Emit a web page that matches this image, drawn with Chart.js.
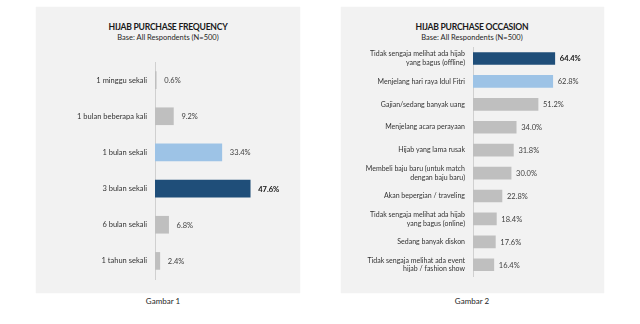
<!DOCTYPE html>
<html><head><meta charset="utf-8">
<script src="https://cdn.jsdelivr.net/npm/chart.js@4.4.1/dist/chart.umd.min.js"></script>
<style>
html,body{margin:0;padding:0;background:#fff;width:640px;height:324px;overflow:hidden;font-family:Lato,"Noto Sans",sans-serif;}
.panel{position:absolute;background:#f2f2f2;box-shadow:0 0 1px rgba(0,0,0,0.08);}
.t{position:absolute;text-align:center;color:#1a1a1a;white-space:nowrap;transform:translateX(-50%);}
.title{font-weight:bold;font-size:8.6px;letter-spacing:-0.25px;}
.sub{font-size:7.5px;color:#262626;}
.cap{font-size:8px;color:#262626;}
canvas{position:absolute;}
</style></head>
<body>
<div class="panel" style="left:36px;top:7px;width:264px;height:286px;"></div>
<div class="panel" style="left:341px;top:7px;width:263px;height:286px;"></div>
<div class="t title" style="left:168px;top:21.5px;">HIJAB PURCHASE FREQUENCY</div>
<div class="t sub" style="left:168px;top:32.5px;">Base: All Respondents (N=500)</div>
<div class="t title" style="left:472px;top:21.5px;">HIJAB PURCHASE OCCASION</div>
<div class="t sub" style="left:472px;top:32.5px;">Base: All Respondents (N=500)</div>
<div class="t cap" style="left:163px;top:296px;">Gambar 1</div>
<div class="t cap" style="left:472px;top:296px;">Gambar 2</div>
<canvas id="c1" width="264" height="286" style="left:36px;top:7px;width:264px;height:286px;"></canvas>
<canvas id="c2" width="263" height="286" style="left:341px;top:7px;width:263px;height:286px;"></canvas>
<script>
// ---- data ----
const freqCategories = ["1 minggu sekali","1 bulan beberapa kali","1 bulan sekali","3 bulan sekali","6 bulan sekali","1 tahun sekali"];
const freqValues = [0.6, 9.2, 33.4, 47.6, 6.8, 2.4];
const freqColorKeys = ["grey","grey","light","dark","grey","grey"];

const occCategories = [
  ["Tidak sengaja melihat ada hijab","yang bagus (offline)"],
  "Menjelang hari raya Idul Fitri",
  "Gajian/sedang banyak uang",
  "Menjelang acara perayaan",
  "Hijab yang lama rusak",
  ["Membeli baju baru (untuk match","dengan baju baru)"],
  "Akan bepergian / traveling",
  ["Tidak sengaja melihat ada hijab","yang bagus (online)"],
  "Sedang banyak diskon",
  ["Tidak sengaja melihat ada event","hijab / fashion show"]
];
const occValues = [64.4, 62.8, 51.2, 34.0, 31.8, 30.0, 22.8, 18.4, 17.6, 16.4];
const occColorKeys = ["dark","light","grey","grey","grey","grey","grey","grey","grey","grey"];

const palette = {dark:"#1f4e79", light:"#9dc3e6", grey:"#bfbfbf"};
const FONT = "Lato, 'Noto Sans', sans-serif";

const valueLabels = {
  id:"valueLabels",
  afterDatasetsDraw(chart, args, opts){
    const ctx = chart.ctx;
    const meta = chart.getDatasetMeta(0);
    const ds = chart.data.datasets[0];
    ctx.save();
    ctx.textBaseline = "middle";
    ctx.textAlign = "left";
    meta.data.forEach((bar,i)=>{
      const bold = opts.boldIndex === i;
      ctx.font = (bold ? "bold " : "") + opts.size + "px " + FONT;
      ctx.fillStyle = bold ? "#111" : "#404040";
      ctx.fillText(ds.data[i].toFixed(1) + "%", bar.x + opts.offset, bar.y + 0.5);
    });
    ctx.restore();
  }
};

function makeChart(id, labels, values, keys, opts){
  return new Chart(document.getElementById(id), {
    type:"bar",
    data:{labels:labels, datasets:[{data:values, backgroundColor:keys.map(k=>palette[k]), barThickness:opts.thick, borderWidth:0}]},
    options:{
      indexAxis:"y",
      responsive:false, animation:false,
      layout:{padding:opts.padding},
      plugins:{legend:{display:false}, tooltip:{enabled:false}, title:{display:false},
        valueLabels:{boldIndex:opts.bold, size:opts.vsize, offset:opts.voff}},
      scales:{
        x:{display:false, min:0, max:opts.max},
        y:{
          afterFit(s){ s.width = opts.yw; },
          grid:{display:false, drawTicks:false},
          border:{display:true, color:"#d0d0d0", width:1},
          ticks:{color:"#333333", padding:8, font:{family:FONT, size:opts.lsize, lineHeight:1.25}}
        }
      }
    },
    plugins:[valueLabels]
  });
}

makeChart("c1", freqCategories, freqValues, freqColorKeys,
  {thick:17, max:60, yw:119, padding:{top:55, bottom:14, left:0, right:25}, bold:3, vsize:7.5, voff:8, lsize:7.5});
makeChart("c2", occCategories, occValues, occColorKeys,
  {thick:12, max:100, yw:132, padding:{top:40, bottom:12, left:0, right:4}, bold:0, vsize:7.5, voff:5, lsize:7});
</script>
</body></html>
